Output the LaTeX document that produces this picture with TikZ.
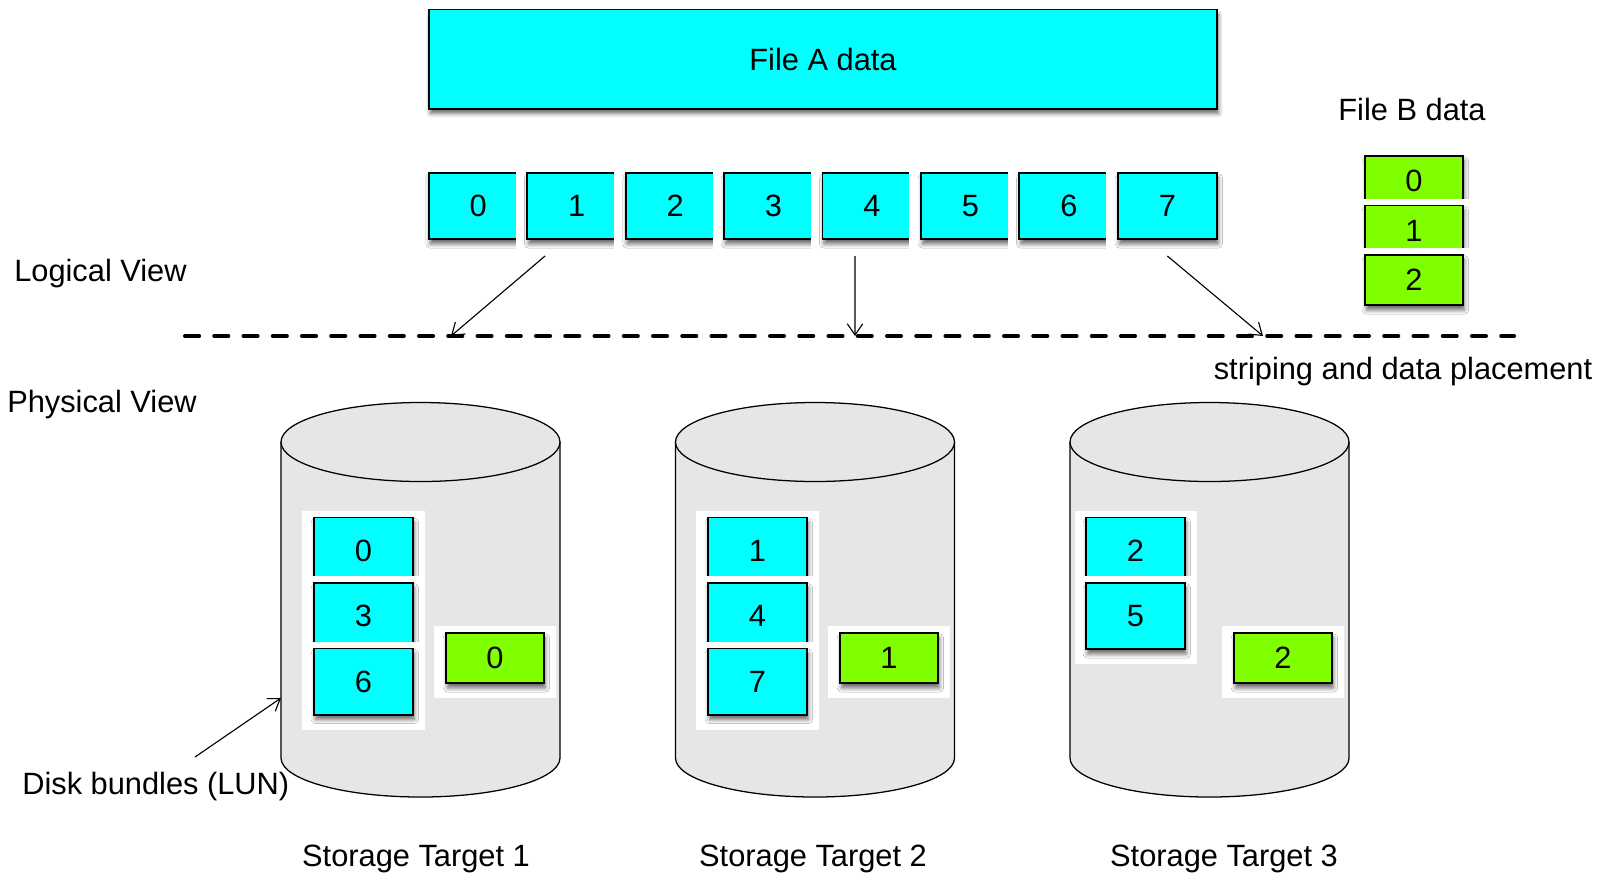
\documentclass[tikz,border=0pt]{standalone}
\usepackage{fontspec}
\setmainfont{Liberation Sans}
\usetikzlibrary{arrows.meta,shadows.blur}
\definecolor{C}{RGB}{0,255,255}
\definecolor{G}{RGB}{128,255,0}
\definecolor{D}{RGB}{230,230,230}

\begin{document}
\begin{tikzpicture}[x=0.025cm, y=-0.025cm,
  every node/.style={font=\fontsize{21.9}{26}\selectfont, inner sep=0pt},
  blk/.style={draw=black, line width=1.4pt,
    blur shadow={shadow xshift=1pt, shadow yshift=-3.5pt, shadow blur radius=3pt, shadow opacity=60}},
  blkA/.style={blk, fill=C, minimum width=2.475cm, minimum height=1.65cm},
  blkB/.style={blk, fill=G, minimum width=2.45cm, minimum height=1.25cm},
  backA/.style={fill=white, minimum width=3.05cm, minimum height=2.2cm, yshift=-0.1cm},
  backB/.style={fill=white, minimum width=3.05cm, minimum height=1.8cm, yshift=-0.1cm},
  arr/.style={-{Straight Barb[length=8pt,width=11pt]}, line width=0.8pt}]
  \useasboundingbox (0,0) rectangle (1608,877);

  % logical view
  \node[blkA, minimum width=19.7cm, minimum height=2.475cm] (fa) at (823,59) {File A data};
  \foreach \i in {0,...,7} {
    \node[backA] (wa\i) at (478.2+98.45*\i,206) {};
    \node[blkA] (a\i) at (478.2+98.45*\i,206) {\i};
  }
  \node (fb) at (1412,109) {File B data};
  \foreach \i/\y in {0/181,1/230.5,2/280} {
    \node[backB] (wb\i) at (1414,\y) {};
    \node[blkB] (b\i) at (1414,\y) {\i};
  }
  \node[anchor=west] (lv) at (14,274) {Logical View};
  \node[anchor=west] (pv) at (7,405) {Physical View};
  \node (sp) at (1403,372) {striping and data placement};

  % striping line
  \coordinate (d0) at (185,336);
  \coordinate (d1) at (1514,336);
  \draw[dash pattern=on 10pt off 10.8pt, line width=2.85pt, line cap=round] (d0) -- (d1);
  \coordinate (p1) at (451,336);
  \coordinate (p4) at (855,336);
  \coordinate (p7) at (1263,336);
  \draw[arr] ([shift={(-31.6,16)}]a1.south) -- (p1);
  \draw[arr] ([shift={(-17,16)}]a4.south) -- (p4);
  \draw[arr] ([shift={(0,16)}]a7.south) -- (p7);

  % physical view
  \foreach \k/\cx/\gx in {0/363.5/495, 1/757.5/889, 2/1135.5/1283} {
    \pgfmathsetmacro\mx{420.5+394.5*\k}
    \fill[D] (\mx-139.5,442) -- (\mx-139.5,758)
      arc[start angle=180, end angle=0, x radius=139.5, y radius=39] -- (\mx+139.5,442) -- cycle;
    \draw[line width=0.9pt] (\mx-139.5,442) -- (\mx-139.5,758)
      arc[start angle=180, end angle=0, x radius=139.5, y radius=39] -- (\mx+139.5,442);
    \filldraw[fill=D, line width=0.9pt] (\mx,442) ellipse[x radius=139.5, y radius=39.5];
    \foreach \j in {0,1,2} {
      \pgfmathtruncatemacro\n{\k+3*\j}
      \ifnum\n<8
        \node[backA] (wt\n) at (\cx,550.5+65.5*\j) {};
        \node[blkA] (t\n) at (\cx,550.5+65.5*\j) {\n};
      \fi
    }
    \node[backB] (wg\k) at (\gx,658) {};
    \node[blkB] (g\k) at (\gx,658) {\k};
  }
  \node (st1) at (416,859) {Storage Target 1};
  \node (st2) at (813,859) {Storage Target 2};
  \node (st3) at (1224,859) {Storage Target 3};

  \node[anchor=west] (lun) at (22,787) {Disk bundles (LUN)};
  \coordinate (lun0) at (195,757);
  \coordinate (lun1) at (281,698);
  \draw[arr] (lun0) -- (lun1);
\end{tikzpicture}
\end{document}
